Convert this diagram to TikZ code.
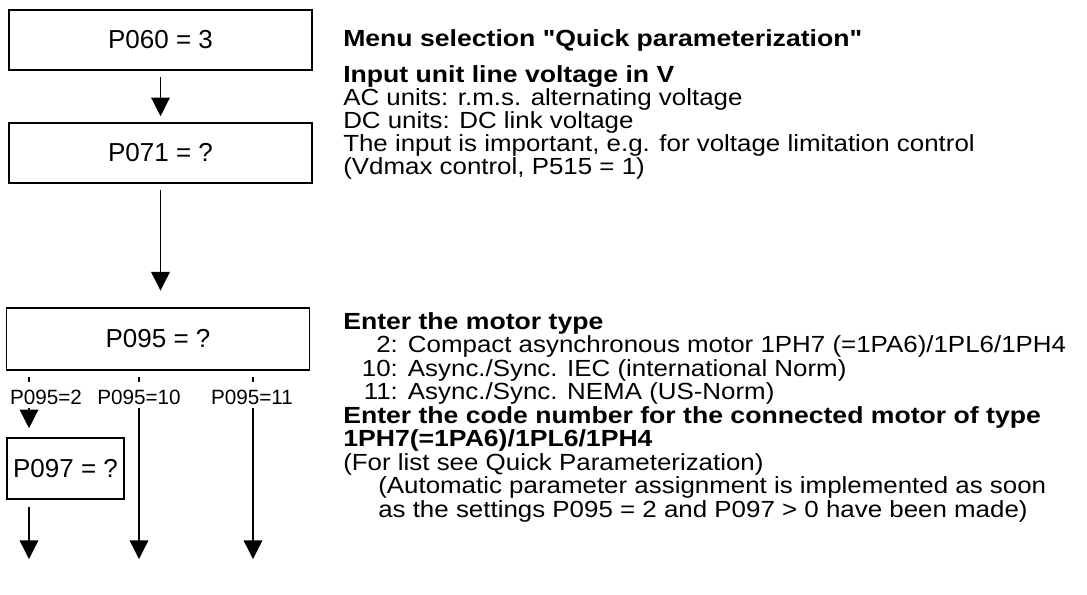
\documentclass[tikz,border=0pt]{standalone}
\usepackage{fontspec}
\setmainfont[Ligatures=TeXOff]{Liberation Sans}
\newfontfamily\notefont[Ligatures=TeXOff, FakeStretch=1.11, BoldFeatures={FakeStretch=1.14}]{Liberation Sans}
\usetikzlibrary{arrows.meta, positioning}

\tikzset{
  parbox/.style={draw, line width=1.2pt, minimum width=227pt, minimum height=45pt, font=\fontsize{19.5}{22}\selectfont},
  flow/.style={-{Triangle[length=14pt,width=14pt]}, line width=1pt},
  tick/.style={line width=1pt},
  branch/.style={font=\fontsize{15.5}{17}\selectfont},
  note/.style={anchor=base west, inner sep=0pt, font=\notefont\fontsize{17.5}{17.25}\selectfont},
}
\newcommand{\itemno}[1]{\makebox[41pt][r]{#1}\hspace{7.5pt}}

\begin{document}
\begin{tikzpicture}[x=0.75pt, y=-0.75pt]
  \useasboundingbox (0,0) rectangle (1087,594);
  % parameter boxes
  \node[parbox] (p060) at (160.5,40) {P060 = 3};
  \node[parbox] (p071) at (160.5,153) {P071 = ?};
  \node[parbox, minimum height=46.5pt] (p095) at (158,339) {P095 = ?};
  \node[parbox, minimum width=87.75pt, minimum height=45.75pt] (p097) at (65.5,468.5) {P097 = ?};
  % main arrows
  \draw[flow, shorten <=5pt, shorten >=4.5pt] (p060) -- (p071);
  \draw[flow, shorten <=5pt, shorten >=12.5pt] (p071) -- (p071 |- p095.north);
  % branches below P095
  \node[branch] (l2) at (46,397) {P095=2};
  \node[branch] (l10) at (139,397) {P095=10};
  \node[branch] (l11) at (252,397) {P095=11};
  \foreach \x/\n in {29/2, 139/10, 253/11} {
    \coordinate (t\n) at (\x,377);
    \coordinate (s\n) at (\x,408);
    \coordinate (e\n) at (\x,559);
    \draw[tick] (t\n) -- ++(0,5);
  }
  \draw[flow, shorten >=6.75pt] (s2) -- (s2 |- p097.north);
  \draw[flow, shorten <=5.25pt] (s2 |- p097.south) -- (e2);
  \draw[flow] (s10) -- (e10);
  \draw[flow] (s11) -- (e11);
  % descriptions
  \node[note] (d1) at (343,46) {\bfseries Menu selection "Quick parameterization"};
  \node[note] (d2) at (343,82) {\bfseries Input unit line voltage in V};
  \node[note] (d3) at (343,105) {AC units: r.m.s. alternating voltage};
  \node[note] (d4) at (343,128) {DC units: DC link voltage};
  \node[note] (d5) at (343,151) {The input is important, e.g. for voltage limitation control};
  \node[note] (d6) at (343,174) {(Vdmax control, P515 = 1)};
  \node[note] (m1) at (343,329) {\bfseries Enter the motor type};
  \node[note] (m2) at (343,352.5) {\itemno{2:}Compact asynchronous motor 1PH7 (=1PA6)/1PL6/1PH4};
  \node[note] (m3) at (343,376) {\itemno{10:}Async./Sync. IEC (international Norm)};
  \node[note] (m4) at (343,399.5) {\itemno{11:}Async./Sync. NEMA (US-Norm)};
  \node[note] (m5) at (343,423) {\bfseries Enter the code number for the connected motor of type};
  \node[note] (m6) at (343,446.5) {\bfseries 1PH7(=1PA6)/1PL6/1PH4};
  \node[note] (m7) at (343,470) {(For list see Quick Parameterization)};
  \node[note] (m8) at (378,493.5) {(Automatic parameter assignment is implemented as soon};
  \node[note] (m9) at (378,517) {as the settings P095 = 2 and P097 > 0 have been made)};
\end{tikzpicture}
\end{document}
